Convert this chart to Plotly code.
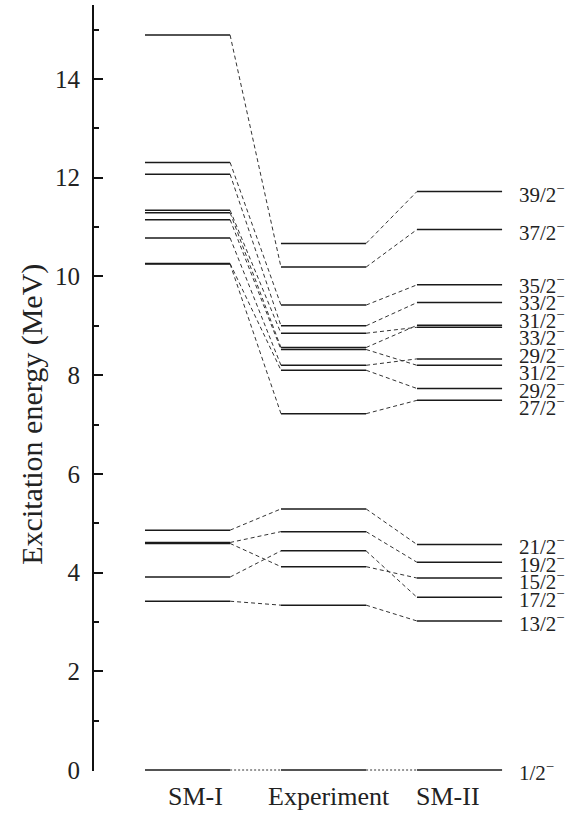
import plotly.graph_objects as go

# ---------------- data ----------------
columns = ["SM-I", "Experiment", "SM-II"]
spins = ["39/2", "37/2", "35/2", "33/2", "33/2", "31/2", "31/2", "29/2", "29/2", "27/2",
         "21/2", "19/2", "15/2", "17/2", "13/2", "1/2"]
e_sm1 = [None, 14.89, 12.31, 12.07, 11.34, 11.29, 11.15, 10.78, 10.26, 10.25,
         4.86, 4.61, 4.59, 3.91, 3.42, 0.0]
e_exp = [10.67, 10.19, 9.42, 9.00, 8.85, 8.56, 8.52, 8.20, 8.10, 7.22,
         5.29, 4.83, 4.12, 4.44, 3.34, 0.0]
e_sm2 = [11.72, 10.95, 9.83, 9.47, 8.97, 9.01, 8.20, 8.33, 7.73, 7.49,
         4.57, 4.21, 3.89, 3.50, 3.02, 0.0]
ytick_vals = [0, 2, 4, 6, 8, 10, 12, 14]
yminor_vals = [1, 3, 5, 7, 9, 11, 13, 15]
y_title = "Excitation energy (MeV)"

# ---------------- layout constants ----------------
FONT = "Liberation Serif"
HW = 0.313          # half width of a level line (x units)
LINE_C = "#1a1a1a"
series = [e_sm1, e_exp, e_sm2]

fig = go.Figure()

# level lines
lx, ly = [], []
for k, vals in enumerate(series):
    xc = k + 1
    for v in vals:
        if v is None:
            continue
        lx += [xc - HW, xc + HW, None]
        ly += [v, v, None]
fig.add_trace(go.Scatter(x=lx, y=ly, mode="lines", line=dict(color=LINE_C, width=1.5),
                         hoverinfo="skip", showlegend=False))

# connectors
dx, dy, gx, gy = [], [], [], []
for k in range(2):
    a, b = series[k], series[k + 1]
    for va, vb in zip(a, b):
        if va is None or vb is None:
            continue
        seg_x = [k + 1 + HW, k + 2 - HW, None]
        seg_y = [va, vb, None]
        if va == 0 and vb == 0:
            gx += seg_x; gy += seg_y
        else:
            dx += seg_x; dy += seg_y
fig.add_trace(go.Scatter(x=dx, y=dy, mode="lines",
                         line=dict(color="#333333", width=1, dash="4px,3px"),
                         hoverinfo="skip", showlegend=False))
fig.add_trace(go.Scatter(x=gx, y=gy, mode="lines",
                         line=dict(color="#333333", width=1, dash="2px,2px"),
                         hoverinfo="skip", showlegend=False))

# label placement for SM-II levels (pool adjacent violators, min gap)
GAP = 0.355
order = sorted(range(len(e_sm2)), key=lambda i: e_sm2[i])
d = [e_sm2[i] - n * GAP for n, i in enumerate(order)]
blocks = []  # [sum, count]
for v in d:
    blocks.append([v, 1])
    while len(blocks) > 1 and blocks[-2][0] / blocks[-2][1] > blocks[-1][0] / blocks[-1][1]:
        s, c = blocks.pop()
        blocks[-1][0] += s
        blocks[-1][1] += c
q = []
for s, c in blocks:
    q += [s / c] * c
label_pos = {}
for n, i in enumerate(order):
    label_pos[i] = q[n] + n * GAP

annotations = []
for i, sp in enumerate(spins):
    annotations.append(dict(
        x=3 + HW, y=label_pos[i], xref="x", yref="y", xanchor="left", yanchor="middle",
        xshift=15, yshift=-1.5, showarrow=False,
        text=sp + "<sup>\u2212</sup>", font=dict(family=FONT, size=21, color="#222")))

# column names
col_shift = [8, 5, -12]
for k, name in enumerate(columns):
    annotations.append(dict(
        x=k + 1, y=-0.033, xref="x", yref="paper", xanchor="center", yanchor="middle",
        xshift=col_shift[k], showarrow=False, text=name,
        font=dict(family=FONT, size=26, color="#222")))

# y-axis title
annotations.append(dict(
    x=-0.129, y=7.2, xref="paper", yref="y", xanchor="center", yanchor="middle",
    textangle=-90, showarrow=False, text=y_title,
    font=dict(family=FONT, size=30, color="#222")))

fig.update_layout(
    width=574, height=813,
    margin=dict(l=94, r=0, t=5, b=42),
    plot_bgcolor="white", paper_bgcolor="white",
    showlegend=False,
    annotations=annotations,
    xaxis=dict(range=[0.312, 3.842], visible=False),
    yaxis=dict(range=[-0.02, 15.5], showline=True, linecolor="#111", linewidth=2,
               ticks="inside", ticklen=9, tickwidth=2, tickcolor="#111",
               tickvals=ytick_vals, ticktext=[str(v) for v in ytick_vals],
               minor=dict(tickvals=yminor_vals, ticks="inside", ticklen=5, tickwidth=1.5,
                          tickcolor="#111"),
               showgrid=False, zeroline=False, ticklabelstandoff=7,
               tickfont=dict(family=FONT, size=25, color="#222")),
)

fig.write_html("out.html")
